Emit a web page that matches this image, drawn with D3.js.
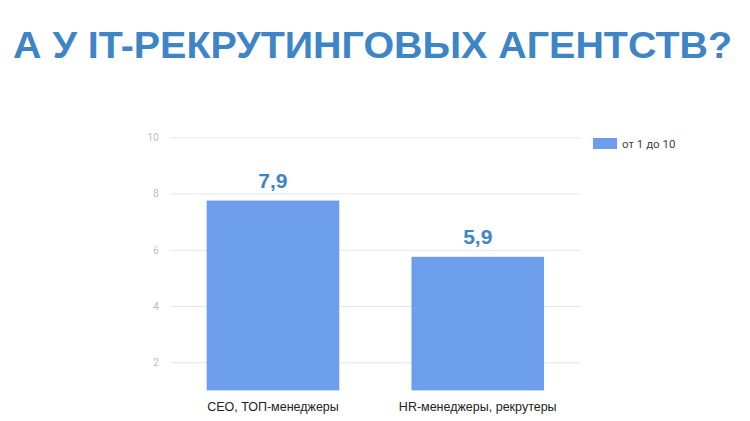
<!DOCTYPE html>
<html><head><meta charset="utf-8">
<script src="https://cdn.jsdelivr.net/npm/d3@7"></script>
<style>body{margin:0;background:#fff}svg{display:block}</style>
</head><body>
<svg id="c" width="750" height="421"></svg>
<script>
const title = "А У IT-РЕКРУТИНГОВЫХ АГЕНТСТВ?";
const categories = ["СЕО, ТОП-менеджеры", "HR-менеджеры, рекрутеры"];
const values = [7.75, 5.75];
const valueLabels = ["7,9", "5,9"];
const yTicks = [2, 4, 6, 8, 10];
const seriesName = "от 1 до 10";

(function () {
const svg = d3.select("#c");
const pl = 170, pr = 580.7, pt = 137.3, pb = 390.4;

const y = d3.scaleLinear().domain([1, 10]).range([pb, pt]);
const x = d3.scaleBand().domain(categories).range([pl, pr])
  .paddingInner(0.3525).paddingOuter(0.179);

// title
svg.append("text").attr("x", 13).attr("y", 58.3)
  .attr("font-family", "Liberation Sans, Arial, sans-serif")
  .attr("font-weight", "bold").attr("font-size", 36)
  .attr("fill", "#3d85c6")
  .attr("textLength", 719).attr("lengthAdjust", "spacingAndGlyphs")
  .text(title);

// grid + ticks
const yAxis = d3.axisLeft(y).tickValues(yTicks).tickSize(-(pr - pl)).tickPadding(11);
const g = svg.append("g").attr("transform", `translate(${pl},0)`).call(yAxis);
g.select(".domain").remove();
g.selectAll(".tick line").attr("stroke", "#e6e6e6").attr("stroke-width", 1);
g.selectAll(".tick text").attr("fill", "#bdbdbd")
  .attr("font-family", "Roboto, Arial, sans-serif").attr("font-size", 10.5);

// bars
svg.append("g").selectAll("rect").data(values).join("rect")
  .attr("x", (d, i) => x(categories[i]))
  .attr("width", x.bandwidth())
  .attr("y", d => y(d))
  .attr("height", d => y(1) - y(d))
  .attr("fill", "#6d9eeb");

// value labels
svg.append("g").selectAll("text").data(values).join("text")
  .attr("x", (d, i) => x(categories[i]) + x.bandwidth() / 2)
  .attr("y", d => y(d) - 12.4)
  .attr("text-anchor", "middle")
  .attr("font-family", "Liberation Sans, Arial, sans-serif")
  .attr("font-weight", "bold").attr("font-size", 21)
  .attr("fill", "#3d85c6")
  .text((d, i) => valueLabels[i]);

// category labels
svg.append("g").selectAll("text").data(categories).join("text")
  .attr("x", d => x(d) + x.bandwidth() / 2)
  .attr("y", 411)
  .attr("text-anchor", "middle")
  .attr("font-family", "Liberation Sans, Arial, sans-serif")
  .attr("font-size", 12.5).attr("fill", "#222")
  .text(d => d);

// legend
svg.append("rect").attr("x", 593).attr("y", 138).attr("width", 24).attr("height", 11).attr("fill", "#6d9eeb");
svg.append("text").attr("x", 622).attr("y", 147.5)
  .attr("font-family", "Roboto, Arial, sans-serif").attr("font-size", 11.5)
  .attr("fill", "#444").text(seriesName);
})();
</script>
</body></html>
